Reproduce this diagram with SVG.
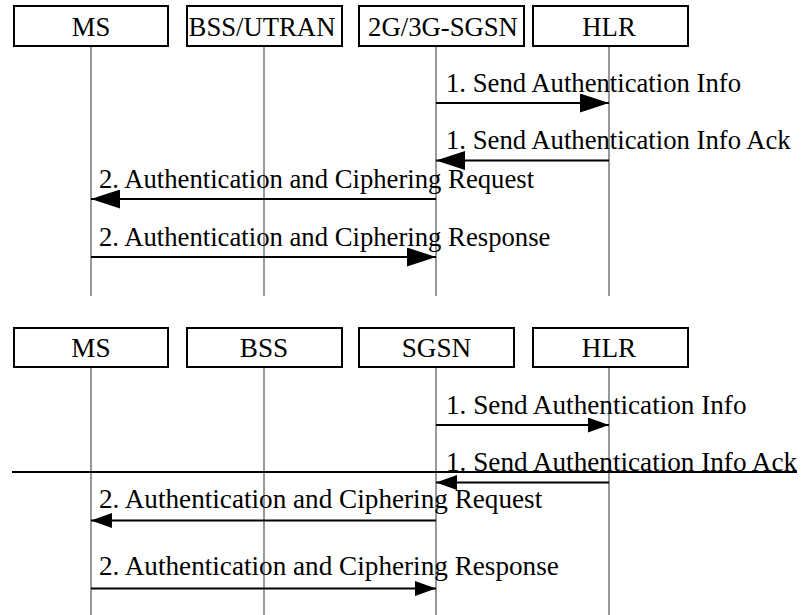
<svg xmlns="http://www.w3.org/2000/svg" width="802" height="615" viewBox="0 0 802 615">
<style>
.box{fill:#fff;stroke:#000;stroke-width:2}
.life{stroke:#555;stroke-width:1.2;fill:none}
.msg{stroke:#000;stroke-width:2;fill:none}
.lbl{font-family:"Liberation Serif","Times New Roman",serif;font-size:26.7px;fill:#000}
.lbl2{font-family:"Liberation Serif","Times New Roman",serif;font-size:27.2px;fill:#000}
.c{text-anchor:middle}
</style>
<defs>
<marker id="ab" viewBox="0 0 29 19" refX="29" refY="9.5" markerWidth="29" markerHeight="19" markerUnits="userSpaceOnUse" orient="auto"><path d="M0,0 L29,9.5 L0,19 z" fill="#000"/></marker>
<marker id="as" viewBox="0 0 21 15" refX="21" refY="7.5" markerWidth="21" markerHeight="15" markerUnits="userSpaceOnUse" orient="auto"><path d="M0,0 L21,7.5 L0,15 z" fill="#000"/></marker>
</defs>
<rect width="802" height="615" fill="#fff"/>

<g id="lifelines">
<path class="life" d="M91,46V296M264,46V296M436,46V296M609,46V296"/>
<path class="life" d="M91,367V615M264,367V615M436,367V615M609,367V615"/>
</g>

<g id="n-ms1"><rect class="box" x="14" y="6" width="154" height="40"/><text class="lbl c" x="91" y="36">MS</text></g>
<g id="n-bss1"><rect class="box" x="187" y="6" width="155" height="40"/><text class="lbl c" x="262" y="36">BSS/UTRAN</text></g>
<g id="n-sgsn1"><rect class="box" x="359" y="6" width="165" height="40"/><text class="lbl c" x="443" y="36">2G/3G-SGSN</text></g>
<g id="n-hlr1"><rect class="box" x="533" y="6" width="155" height="40"/><text class="lbl c" x="609" y="36">HLR</text></g>

<g id="n-ms2"><rect class="box" x="14" y="328" width="154" height="39"/><text class="lbl2 c" x="91" y="357">MS</text></g>
<g id="n-bss2"><rect class="box" x="187" y="328" width="155" height="39"/><text class="lbl2 c" x="264" y="357">BSS</text></g>
<g id="n-sgsn2"><rect class="box" x="359" y="328" width="155" height="39"/><text class="lbl2 c" x="436.5" y="357">SGSN</text></g>
<g id="n-hlr2"><rect class="box" x="533" y="328" width="155" height="39"/><text class="lbl2 c" x="609" y="357">HLR</text></g>

<g id="connectors">
<line class="msg" x1="436" y1="103" x2="609" y2="103" marker-end="url(#ab)"/>
<line class="msg" x1="609" y1="160.5" x2="436" y2="160.5" marker-end="url(#ab)"/>
<line class="msg" x1="436" y1="199" x2="91" y2="199" marker-end="url(#ab)"/>
<line class="msg" x1="91" y1="257" x2="436" y2="257" marker-end="url(#ab)"/>

<line class="msg" x1="436" y1="425" x2="609" y2="425" marker-end="url(#as)"/>
<line class="msg" x1="609" y1="482.5" x2="436" y2="482.5" marker-end="url(#as)"/>
<line class="msg" x1="436" y1="520.5" x2="91" y2="520.5" marker-end="url(#as)"/>
<line class="msg" x1="91" y1="588.5" x2="436" y2="588.5" marker-end="url(#as)"/>
<line x1="12" y1="472" x2="797" y2="472" stroke="#000" stroke-width="2"/>
</g>

<g id="labels">
<text class="lbl" x="446" y="92">1. Send Authentication Info</text>
<text class="lbl" x="446" y="149">1. Send Authentication Info Ack</text>
<text class="lbl" x="99" y="188">2. Authentication and Ciphering Request</text>
<text class="lbl" x="99" y="246">2. Authentication and Ciphering Response</text>

<text class="lbl2" x="446" y="414">1. Send Authentication Info</text>
<text class="lbl2" x="446" y="470.5">1. Send Authentication Info Ack</text>
<text class="lbl2" x="99" y="508">2. Authentication and Ciphering Request</text>
<text class="lbl2" x="99" y="575">2. Authentication and Ciphering Response</text>
</g>
</svg>
